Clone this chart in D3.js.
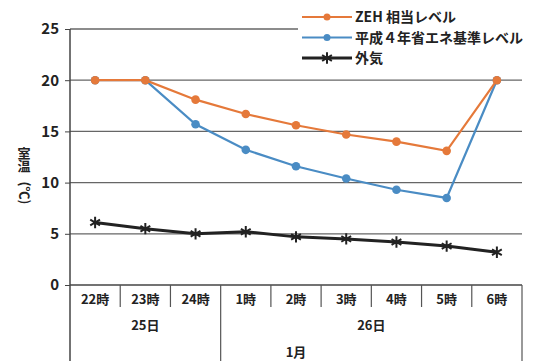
<!DOCTYPE html>
<html>
<head>
<meta charset="utf-8">
<script src="https://cdn.jsdelivr.net/npm/d3@7"></script>
<style>
  body { margin: 0; background: #fff; }
  svg text { font-family: "Noto Sans CJK JP", "Noto Sans", sans-serif; fill: #222; }
</style>
</head>
<body>
<div id="chart"></div>
<script>
const hours = ["22時", "23時", "24時", "1時", "2時", "3時", "4時", "5時", "6時"],
days = [{ label: "25日", from: 0, to: 3 }, { label: "26日", from: 3, to: 9 }],
monthLabel = "1月",
zehLevel = [20, 20, 18.1, 16.7, 15.6, 14.7, 14.0, 13.1, 20],
h4Level = [20, 20, 15.7, 13.2, 11.6, 10.4, 9.3, 8.5, 20],
outside = [6.1, 5.5, 5.0, 5.2, 4.7, 4.5, 4.2, 3.8, 3.2],
yTicks = [0, 5, 10, 15, 20, 25],
series = [
  { name: "ZEH 相当レベル", values: zehLevel, color: "#e5793a", marker: "circle" },
  { name: "平成４年省エネ基準レベル", values: h4Level, color: "#4a8cc4", marker: "circle" },
  { name: "外気", values: outside, color: "#222", marker: "asterisk" }
];

const width = 536, height = 361,
plotLeft = 70, plotRight = 522, plotTop = 29, plotBottom = 285;

const svg = d3.select('#chart')
  .append('svg')
  .attr('width', width)
  .attr('height', height);

const x = d3.scaleBand().domain(d3.range(hours.length)).range([plotLeft, plotRight]);
const y = d3.scaleLinear().domain([0, 25]).range([plotBottom, plotTop]);
const cx = i => x(i) + x.bandwidth() / 2;

// gridlines
svg.append('g')
  .selectAll('line')
  .data(yTicks.filter(d => d > 0))
  .join('line')
  .attr('x1', plotLeft)
  .attr('x2', plotRight)
  .attr('y1', d => y(d))
  .attr('y2', d => y(d))
  .attr('stroke', '#666')
  .attr('stroke-width', 1.3);

// y axis
svg.append('g')
  .attr('transform', `translate(${plotLeft},0)`)
  .call(d3.axisLeft(y).tickValues(yTicks).tickSize(5).tickPadding(6))
  .call(g => g.select('.domain').remove())
  .call(g => g.selectAll('line').attr('stroke', '#444'))
  .call(g => g.selectAll('text').attr('font-size', 15).attr('font-weight', 'bold'));

svg.append('line')
  .attr('x1', plotLeft).attr('x2', plotLeft)
  .attr('y1', plotTop).attr('y2', height)
  .attr('stroke', '#444').attr('stroke-width', 1.5);

svg.append('line')
  .attr('x1', plotLeft).attr('x2', plotRight)
  .attr('y1', plotBottom).attr('y2', plotBottom)
  .attr('stroke', '#444').attr('stroke-width', 1.5);

// category dividers and labels
const dividers = d3.range(1, hours.length).filter(i => !days.some(d => d.from === i));
svg.append('g')
  .selectAll('line')
  .data(dividers)
  .join('line')
  .attr('x1', d => x(d)).attr('x2', d => x(d))
  .attr('y1', plotBottom).attr('y2', plotBottom + 22)
  .attr('stroke', '#555').attr('stroke-width', 1.2);

svg.append('g')
  .selectAll('line')
  .data(days.map(d => d.from).filter(i => i > 0))
  .join('line')
  .attr('x1', d => x(d)).attr('x2', d => x(d))
  .attr('y1', plotBottom).attr('y2', height)
  .attr('stroke', '#555').attr('stroke-width', 1.2);

svg.append('line')
  .attr('x1', plotRight).attr('x2', plotRight)
  .attr('y1', plotBottom).attr('y2', height)
  .attr('stroke', '#555').attr('stroke-width', 1.2);

svg.append('g')
  .selectAll('text')
  .data(hours)
  .join('text')
  .attr('x', (d, i) => cx(i))
  .attr('y', plotBottom + 19)
  .attr('text-anchor', 'middle')
  .attr('font-size', 13)
  .attr('font-weight', 'bold')
  .text(d => d);

svg.append('g')
  .selectAll('text')
  .data(days)
  .join('text')
  .attr('x', d => (x(d.from) + (d.to < hours.length ? x(d.to) : plotRight)) / 2)
  .attr('y', plotBottom + 45)
  .attr('text-anchor', 'middle')
  .attr('font-size', 13)
  .attr('font-weight', 'bold')
  .text(d => d.label);

svg.append('text')
  .attr('x', (plotLeft + plotRight) / 2)
  .attr('y', plotBottom + 72)
  .attr('text-anchor', 'middle')
  .attr('font-size', 13)
  .attr('font-weight', 'bold')
  .text(monthLabel);

// y axis title: upright kanji, sideways unit
svg.append('text')
  .attr('x', 24).attr('y', 147)
  .style('writing-mode', 'vertical-rl')
  .attr('font-size', 13).attr('font-weight', 'bold')
  .text('室温');
svg.append('text')
  .attr('transform', 'translate(20,193) rotate(90)')
  .attr('text-anchor', 'middle')
  .attr('font-size', 13).attr('font-weight', 'bold')
  .text('(℃)');

// lines
const line = d3.line().x((d, i) => cx(i)).y(d => y(d));
const asterisk = d3.symbol(d3.symbolAsterisk, 90);

series.slice().reverse().forEach(s => {
  svg.append('path')
    .datum(s.values)
    .attr('d', line)
    .attr('fill', 'none')
    .attr('stroke', s.color)
    .attr('stroke-width', s.marker === 'asterisk' ? 3 : 2.2);

  const pts = svg.append('g')
    .selectAll('.pt')
    .data(s.values)
    .join(s.marker === 'circle' ? 'circle' : 'path')
    .attr('class', 'pt');
  if (s.marker === 'circle') {
    pts.attr('cx', (d, i) => cx(i)).attr('cy', d => y(d)).attr('r', 4.3).attr('fill', s.color);
  } else {
    pts.attr('transform', (d, i) => `translate(${cx(i)},${y(d)})`)
      .attr('d', asterisk).attr('fill', 'none').attr('stroke', s.color).attr('stroke-width', 2);
  }
});

// legend
const legend = svg.append('g');
legend.append('rect').attr('x', 298).attr('y', 3).attr('width', 238).attr('height', 68).attr('fill', '#fff');
const item = legend.selectAll('g')
  .data(series)
  .join('g')
  .attr('transform', (d, i) => `translate(302,${17 + i * 20.5})`);
item.append('line')
  .attr('x1', 0).attr('x2', 50)
  .attr('stroke', d => d.color)
  .attr('stroke-width', d => d.marker === 'asterisk' ? 3 : 2.2);
item.filter(d => d.marker === 'circle').append('circle')
  .attr('cx', 25).attr('r', 3.5).attr('fill', d => d.color);
item.filter(d => d.marker === 'asterisk').append('path')
  .attr('transform', 'translate(25,0)')
  .attr('d', asterisk).attr('fill', 'none').attr('stroke', d => d.color).attr('stroke-width', 2);
item.append('text')
  .attr('x', 53).attr('y', 5)
  .attr('font-size', 14)
  .attr('font-weight', 'bold')
  .text(d => d.name);
</script>
</body>
</html>
